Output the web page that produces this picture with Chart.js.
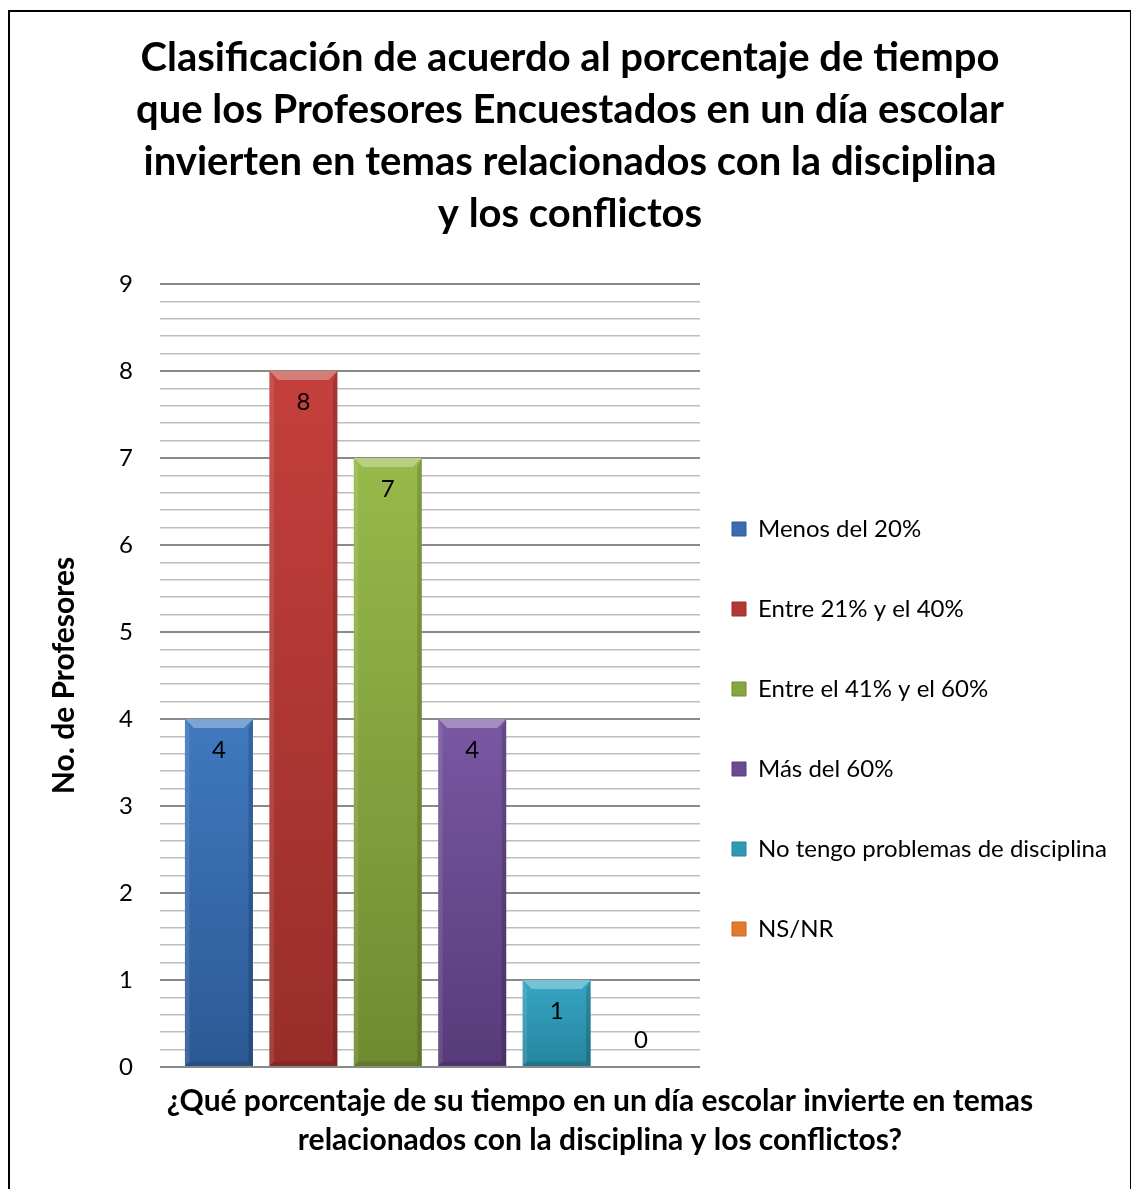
<!DOCTYPE html>
<html>
<head>
<meta charset="utf-8">
<script src="https://cdn.jsdelivr.net/npm/chart.js@4.4.1/dist/chart.umd.min.js"></script>
<style>
  html, body { margin: 0; padding: 0; background: #fff; overflow: hidden; }
  #frame { position: absolute; left: 8px; top: 10px; width: 1120px; height: 1220px; border: 2px solid #000; }
  #wrap { position: absolute; left: 0; top: 0; width: 1131px; height: 1189px; }
</style>
</head>
<body>
<div id="frame"></div>
<div id="wrap"><canvas id="chart"></canvas></div>
<script>
  const titleLines = [
    'Clasificación de acuerdo al porcentaje de tiempo',
    'que los Profesores Encuestados en un día escolar',
    'invierten en temas relacionados con la disciplina',
    'y los conflictos'
  ];
  const xTitleLines = [
    '¿Qué porcentaje de su tiempo en un día escolar invierte en temas',
    'relacionados con la disciplina y los conflictos?'
  ];
  const yTitle = 'No. de Profesores';

  const categories = [
    'Menos del 20%',
    'Entre 21% y el 40%',
    'Entre el 41% y el 60%',
    'Más del 60%',
    'No tengo problemas de disciplina',
    'NS/NR'
  ];
  const counts = [4, 8, 7, 4, 1, 0];
  const yMin = 0;
  const yMax = 9;
  const yStep = 0.2;

  const topColors = ['#4079bf', '#c4403c', '#97b94b', '#7a57a2', '#36a6c3', '#f08c36'];
  const bottomColors = ['#2c5995', '#982d2a', '#6f8b31', '#563b7a', '#25849e', '#c6671e'];
  const legendColors = ['#3a6eb0', '#b33936', '#86a73f', '#6a4a92', '#2f99b4', '#e27c2c'];

  const FONT = 'Lato';
  const textSize = 24;
  const legendPad = 32;
  const legendStep = 80;
  const plotLeft = 160, plotRight = 700, titleCenter = 570;
  const yTitleSize = 30;

  const padR = 0;
  const padL = 2 * titleCenter - 1131 + padR;
  const legendWidth = 1131 - padR - plotRight;

  const isMajor = v => Math.abs(v - Math.round(v)) < 1e-6;

  // keep the legend column as wide as the space right of the plot
  const legendBox = {
    id: 'legendBox',
    beforeLayout(chart) {
      const lg = chart.legend;
      if (!lg || lg._fixedWidth) return;
      const fit = lg.fit.bind(lg);
      lg.fit = function () { fit(); this.width = legendWidth; };
      lg._fixedWidth = true;
    }
  };

  const barStyle = {
    id: 'barStyle',
    afterDatasetsDraw(chart) {
      const ctx = chart.ctx;
      ctx.save();
      chart.data.datasets.forEach((ds, i) => {
        const meta = chart.getDatasetMeta(i);
        meta.data.forEach((bar, j) => {
          const v = ds.data[j];
          const x0 = bar.x - bar.width / 2, x1 = bar.x + bar.width / 2;
          const top = bar.y, base = bar.base;
          if (v > 0) {
            const b = Math.min(9, (base - top) / 3);
            ctx.fillStyle = 'rgba(255,255,255,0.32)';
            ctx.beginPath();
            ctx.moveTo(x0, top); ctx.lineTo(x1, top);
            ctx.lineTo(x1 - b, top + b); ctx.lineTo(x0 + b, top + b);
            ctx.closePath(); ctx.fill();
            ctx.fillStyle = 'rgba(255,255,255,0.10)';
            ctx.beginPath();
            ctx.moveTo(x0, top); ctx.lineTo(x0 + b * 0.5, top + b);
            ctx.lineTo(x0 + b * 0.5, base - b * 0.5); ctx.lineTo(x0, base);
            ctx.closePath(); ctx.fill();
            ctx.fillStyle = 'rgba(0,0,0,0.16)';
            ctx.beginPath();
            ctx.moveTo(x1, top); ctx.lineTo(x1 - b * 0.5, top + b);
            ctx.lineTo(x1 - b * 0.5, base - b * 0.5); ctx.lineTo(x1, base);
            ctx.closePath(); ctx.fill();
            ctx.fillStyle = 'rgba(0,0,0,0.12)';
            ctx.beginPath();
            ctx.moveTo(x0, base); ctx.lineTo(x1, base);
            ctx.lineTo(x1 - b * 0.5, base - b * 0.5); ctx.lineTo(x0 + b * 0.5, base - b * 0.5);
            ctx.closePath(); ctx.fill();
          }
          // value label, inside end
          ctx.fillStyle = '#000';
          ctx.font = textSize + 'px ' + FONT;
          ctx.textAlign = 'center';
          ctx.textBaseline = 'middle';
          const ly = v > 0 ? top + 31 : base - 27;
          ctx.fillText(String(v), bar.x, ly);
        });
      });
      ctx.restore();
    }
  };

  const xTitle = {
    id: 'xTitle',
    afterDraw(chart) {
      const { ctx, chartArea } = chart;
      ctx.save();
      ctx.fillStyle = '#000';
      ctx.font = 'bold ' + yTitleSize + 'px ' + FONT;
      ctx.textAlign = 'center';
      ctx.textBaseline = 'middle';
      xTitleLines.forEach((line, i) => {
        ctx.fillText(line, chartArea.left + 440, chartArea.bottom + 34 + i * 39);
      });
      ctx.restore();
    }
  };

  const datasets = categories.map((name, i) => ({
    label: name,
    data: [counts[i]],
    backgroundColor: c => {
      const ch = c.chart;
      if (!ch.chartArea || !ch.scales.y) return legendColors[i];
      const yS = ch.scales.y;
      const t = yS.getPixelForValue(counts[i]);
      const b = yS.getPixelForValue(0);
      if (b - t < 1) return legendColors[i];
      const g = ch.ctx.createLinearGradient(0, t, 0, b);
      g.addColorStop(0, topColors[i]);
      g.addColorStop(1, bottomColors[i]);
      return g;
    },
    borderWidth: 0,
    categoryPercentage: 0.938,
    barPercentage: 0.806
  }));

  new Chart(document.getElementById('chart'), {
    type: 'bar',
    data: { labels: [''], datasets },
    plugins: [legendBox, barStyle, xTitle],
    options: {
      responsive: true,
      maintainAspectRatio: false,
      animation: false,
      layout: { padding: { left: padL, right: padR, top: 0, bottom: 122 } },
      plugins: {
        tooltip: { enabled: false },
        title: {
          display: true,
          text: titleLines,
          color: '#000',
          font: { family: FONT, size: 40, weight: 'bold', lineHeight: 1.3 },
          padding: { top: 32, bottom: 44 }
        },
        legend: {
          position: 'right',
          fullSize: false,
          align: 'center',
          title: { display: true, text: '', padding: { top: 130, bottom: 0 }, font: { size: 1, lineHeight: 1 } },
          labels: {
            color: '#000',
            font: { family: FONT, size: textSize, lineHeight: (legendStep - legendPad) / textSize },
            boxWidth: 14,
            boxHeight: 14,
            padding: legendPad,
            generateLabels: chart => chart.data.datasets.map((ds, i) => ({
              text: [ds.label],
              fillStyle: legendColors[i],
              strokeStyle: bottomColors[i],
              fontColor: '#000',
              lineWidth: 1,
              hidden: false,
              datasetIndex: i
            }))
          }
        }
      },
      scales: {
        x: { display: false },
        y: {
          min: yMin,
          max: yMax,
          afterFit: s => { s.width = plotLeft - padL; },
          border: { display: false },
          grid: {
            drawTicks: false,
            color: c => isMajor(c.tick.value) ? '#8a8a8a' : '#bdbdbd',
            lineWidth: c => isMajor(c.tick.value) ? 2 : 1.5
          },
          ticks: {
            stepSize: yStep,
            autoSkip: false,
            padding: 27,
            color: '#000',
            font: { family: FONT, size: textSize },
            callback: v => isMajor(v) ? String(Math.round(v)) : ''
          },
          title: {
            display: true,
            text: yTitle,
            color: '#000',
            font: { family: FONT, size: yTitleSize, weight: 'bold' },
            padding: { top: Math.max(0, 64 - padL - yTitleSize * 0.6), bottom: 0 }
          }
        }
      }
    }
  });
</script>
</body>
</html>
